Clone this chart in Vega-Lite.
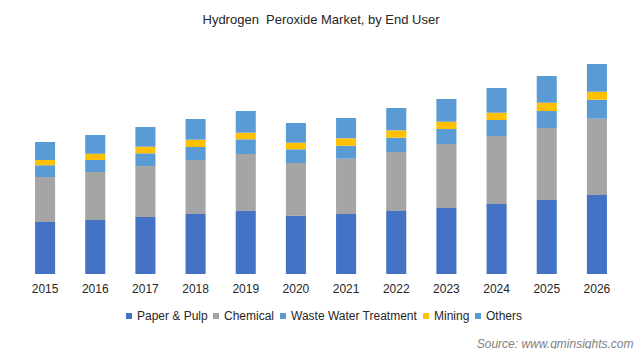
{
  "$schema": "https://vega.github.io/schema/vega-lite/v6.json",
  "width": 602,
  "height": 234,
  "padding": {"left": 20, "top": 14, "right": 20, "bottom": 0},
  "background": "white",
  "config": {
    "view": {"stroke": null},
    "font": "Liberation Sans"
  },
  "title": {
    "text": "Hydrogen\u00a0 Peroxide Market, by End User",
    "fontSize": 13,
    "fontWeight": "normal",
    "color": "#262626",
    "font": "Liberation Sans",
    "anchor": "middle",
    "offset": 13
  },
  "data": {
    "values": [
      {"year": "2015", "segment": "Paper & Pulp", "value": 52},
      {"year": "2015", "segment": "Chemical", "value": 45},
      {"year": "2015", "segment": "Waste Water Treatment", "value": 11.7},
      {"year": "2015", "segment": "Mining", "value": 5.3},
      {"year": "2015", "segment": "Others", "value": 18},
      {"year": "2016", "segment": "Paper & Pulp", "value": 54},
      {"year": "2016", "segment": "Chemical", "value": 48},
      {"year": "2016", "segment": "Waste Water Treatment", "value": 12},
      {"year": "2016", "segment": "Mining", "value": 6.3},
      {"year": "2016", "segment": "Others", "value": 18.7},
      {"year": "2017", "segment": "Paper & Pulp", "value": 57},
      {"year": "2017", "segment": "Chemical", "value": 51},
      {"year": "2017", "segment": "Waste Water Treatment", "value": 12.7},
      {"year": "2017", "segment": "Mining", "value": 6.6},
      {"year": "2017", "segment": "Others", "value": 19.7},
      {"year": "2018", "segment": "Paper & Pulp", "value": 60},
      {"year": "2018", "segment": "Chemical", "value": 54},
      {"year": "2018", "segment": "Waste Water Treatment", "value": 13},
      {"year": "2018", "segment": "Mining", "value": 7.3},
      {"year": "2018", "segment": "Others", "value": 20.7},
      {"year": "2019", "segment": "Paper & Pulp", "value": 63},
      {"year": "2019", "segment": "Chemical", "value": 57},
      {"year": "2019", "segment": "Waste Water Treatment", "value": 14.7},
      {"year": "2019", "segment": "Mining", "value": 6.6},
      {"year": "2019", "segment": "Others", "value": 21.7},
      {"year": "2020", "segment": "Paper & Pulp", "value": 58.3},
      {"year": "2020", "segment": "Chemical", "value": 52.7},
      {"year": "2020", "segment": "Waste Water Treatment", "value": 13.7},
      {"year": "2020", "segment": "Mining", "value": 6.6},
      {"year": "2020", "segment": "Others", "value": 19.7},
      {"year": "2021", "segment": "Paper & Pulp", "value": 60},
      {"year": "2021", "segment": "Chemical", "value": 55.3},
      {"year": "2021", "segment": "Waste Water Treatment", "value": 13},
      {"year": "2021", "segment": "Mining", "value": 7.4},
      {"year": "2021", "segment": "Others", "value": 20.3},
      {"year": "2022", "segment": "Paper & Pulp", "value": 63},
      {"year": "2022", "segment": "Chemical", "value": 59},
      {"year": "2022", "segment": "Waste Water Treatment", "value": 14.3},
      {"year": "2022", "segment": "Mining", "value": 7.4},
      {"year": "2022", "segment": "Others", "value": 22.3},
      {"year": "2023", "segment": "Paper & Pulp", "value": 66},
      {"year": "2023", "segment": "Chemical", "value": 64},
      {"year": "2023", "segment": "Waste Water Treatment", "value": 15},
      {"year": "2023", "segment": "Mining", "value": 7.3},
      {"year": "2023", "segment": "Others", "value": 22.7},
      {"year": "2024", "segment": "Paper & Pulp", "value": 70},
      {"year": "2024", "segment": "Chemical", "value": 68},
      {"year": "2024", "segment": "Waste Water Treatment", "value": 16},
      {"year": "2024", "segment": "Mining", "value": 7.3},
      {"year": "2024", "segment": "Others", "value": 24.7},
      {"year": "2025", "segment": "Paper & Pulp", "value": 74},
      {"year": "2025", "segment": "Chemical", "value": 72},
      {"year": "2025", "segment": "Waste Water Treatment", "value": 17},
      {"year": "2025", "segment": "Mining", "value": 8.3},
      {"year": "2025", "segment": "Others", "value": 26.7},
      {"year": "2026", "segment": "Paper & Pulp", "value": 79},
      {"year": "2026", "segment": "Chemical", "value": 76.3},
      {"year": "2026", "segment": "Waste Water Treatment", "value": 19},
      {"year": "2026", "segment": "Mining", "value": 8},
      {"year": "2026", "segment": "Others", "value": 27.7}
    ]
  },
  "transform": [
    {"calculate": "indexof(['Paper & Pulp', 'Chemical', 'Waste Water Treatment', 'Mining', 'Others'], datum.segment)", "as": "stackOrder"}
  ],
  "mark": {"type": "bar"},
  "encoding": {
    "x": {
      "field": "year",
      "type": "nominal",
      "scale": {"paddingInner": 0.6, "paddingOuter": 0.3},
      "axis": {
        "title": "Source: www.gminsights.com",
        "titleFontStyle": "italic",
        "titleFontWeight": "normal",
        "titleFontSize": 12,
        "titleColor": "#7f7f7f",
        "titleAlign": "right",
        "titleBaseline": "middle",
        "titleX": 613,
        "titleY": 69,
        "labelAngle": 0,
        "labelFontSize": 12,
        "labelColor": "#262626",
        "labelPadding": 9,
        "domain": false,
        "ticks": false
      }
    },
    "y": {
      "field": "value",
      "type": "quantitative",
      "stack": "zero",
      "scale": {"domain": [0, 234], "nice": false, "zero": true},
      "axis": null
    },
    "order": {"field": "stackOrder", "type": "quantitative", "sort": "ascending"},
    "color": {
      "field": "segment",
      "type": "nominal",
      "sort": ["Paper & Pulp", "Chemical", "Waste Water Treatment", "Mining", "Others"],
      "scale": {
        "domain": ["Paper & Pulp", "Chemical", "Waste Water Treatment", "Mining", "Others"],
        "range": ["#4472C4", "#A5A5A5", "#5B9BD5", "#FFC000", "#5B9BD5"]
      },
      "legend": {
        "title": null,
        "orient": "none",
        "direction": "horizontal",
        "legendX": 103,
        "legendY": 270,
        "symbolType": "square",
        "symbolSize": 36,
        "symbolStrokeWidth": 0,
        "labelFontSize": 12,
        "labelColor": "#262626",
        "labelOffset": 2,
        "columnPadding": 2
      }
    }
  }
}
